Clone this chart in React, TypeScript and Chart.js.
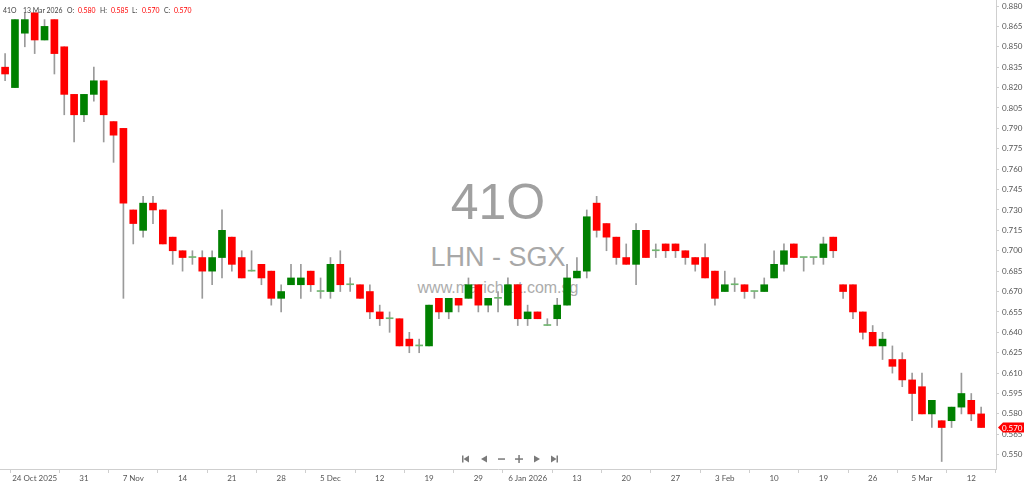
import React, { useEffect, useRef } from "react";
import { Chart, registerables } from "chart.js";

Chart.register(...registerables);

// ---- Data (OHLC, daily, 21 Oct 2025 .. 13 Mar 2026) ----
const opens = [
  0.835, 0.82, 0.86, 0.875, 0.855, 0.87, 0.85, 0.815, 0.8, 0.815,
  0.825, 0.795, 0.79, 0.73, 0.715, 0.735, 0.73, 0.71, 0.7, 0.695,
  0.695, 0.685, 0.695, 0.71, 0.695, 0.685, 0.69, 0.685, 0.665, 0.675,
  0.675, 0.685, 0.67, 0.67, 0.69, 0.675, 0.675, 0.67, 0.655, 0.65,
  0.65, 0.635, 0.63, 0.63, 0.665, 0.655, 0.665, 0.665, 0.675, 0.66,
  0.665, 0.66, 0.675, 0.65, 0.655, 0.645, 0.65, 0.66, 0.68, 0.685,
  0.735, 0.72, 0.71, 0.695, 0.69, 0.715, 0.7, 0.705, 0.705, 0.7,
  0.695, 0.695, 0.685, 0.67, 0.675, 0.675, 0.67, 0.67, 0.68, 0.69,
  0.705, 0.695, 0.695, 0.695, 0.71, 0.675, 0.675, 0.655, 0.64, 0.63,
  0.62, 0.62, 0.605, 0.6, 0.58, 0.575, 0.575, 0.585, 0.59, 0.58,
];
const highs = [
  0.845, 0.87, 0.875, 0.875, 0.87, 0.87, 0.85, 0.815, 0.815, 0.835,
  0.825, 0.795, 0.79, 0.73, 0.74, 0.74, 0.73, 0.71, 0.7, 0.7,
  0.7, 0.7, 0.73, 0.71, 0.7, 0.7, 0.69, 0.685, 0.675, 0.69,
  0.69, 0.685, 0.68, 0.695, 0.7, 0.68, 0.675, 0.675, 0.66, 0.655,
  0.65, 0.64, 0.635, 0.66, 0.665, 0.665, 0.665, 0.68, 0.675, 0.665,
  0.67, 0.68, 0.675, 0.66, 0.655, 0.65, 0.665, 0.69, 0.695, 0.73,
  0.74, 0.72, 0.71, 0.705, 0.72, 0.715, 0.705, 0.705, 0.705, 0.7,
  0.695, 0.705, 0.685, 0.685, 0.68, 0.675, 0.67, 0.68, 0.7, 0.705,
  0.705, 0.695, 0.695, 0.71, 0.71, 0.675, 0.675, 0.655, 0.645, 0.64,
  0.63, 0.625, 0.61, 0.61, 0.59, 0.575, 0.585, 0.61, 0.595, 0.585,
];
const lows = [
  0.825, 0.82, 0.85, 0.845, 0.855, 0.83, 0.8, 0.78, 0.795, 0.81,
  0.78, 0.765, 0.665, 0.705, 0.71, 0.72, 0.705, 0.69, 0.685, 0.69,
  0.665, 0.675, 0.68, 0.685, 0.68, 0.685, 0.675, 0.66, 0.655, 0.675,
  0.665, 0.67, 0.665, 0.665, 0.67, 0.67, 0.665, 0.65, 0.645, 0.64,
  0.63, 0.625, 0.625, 0.63, 0.65, 0.65, 0.655, 0.665, 0.655, 0.655,
  0.655, 0.66, 0.645, 0.645, 0.65, 0.645, 0.645, 0.66, 0.68, 0.68,
  0.71, 0.7, 0.69, 0.69, 0.675, 0.695, 0.695, 0.695, 0.695, 0.69,
  0.685, 0.68, 0.66, 0.67, 0.67, 0.665, 0.665, 0.67, 0.68, 0.685,
  0.695, 0.685, 0.69, 0.69, 0.695, 0.665, 0.65, 0.635, 0.63, 0.62,
  0.61, 0.6, 0.575, 0.58, 0.57, 0.545, 0.57, 0.58, 0.575, 0.57,
];
const closes = [
  0.83, 0.87, 0.87, 0.855, 0.865, 0.845, 0.815, 0.8, 0.815, 0.825,
  0.8, 0.785, 0.735, 0.72, 0.735, 0.73, 0.705, 0.7, 0.695, 0.695,
  0.685, 0.695, 0.715, 0.69, 0.68, 0.685, 0.68, 0.665, 0.67, 0.68,
  0.68, 0.675, 0.67, 0.69, 0.675, 0.675, 0.665, 0.655, 0.65, 0.65,
  0.63, 0.63, 0.63, 0.66, 0.655, 0.665, 0.66, 0.675, 0.66, 0.665,
  0.665, 0.675, 0.65, 0.655, 0.65, 0.645, 0.66, 0.68, 0.685, 0.725,
  0.715, 0.71, 0.695, 0.69, 0.715, 0.695, 0.7, 0.7, 0.7, 0.695,
  0.69, 0.68, 0.665, 0.675, 0.675, 0.67, 0.67, 0.675, 0.69, 0.7,
  0.695, 0.695, 0.695, 0.705, 0.7, 0.67, 0.655, 0.64, 0.63, 0.635,
  0.615, 0.605, 0.595, 0.58, 0.59, 0.57, 0.585, 0.595, 0.58, 0.57,
];

// x-axis tick positions (trading-day index) and labels
const xTickIndices = [3, 8, 13, 18, 23, 28, 33, 38, 43, 48, 53, 58, 63, 68, 73, 78, 83, 88, 93, 98];
const xTickLabels = [
  "24 Oct 2025", "31", "7 Nov", "14", "21", "28", "5 Dec", "12", "19", "29",
  "6 Jan 2026", "13", "20", "27", "3 Feb", "10", "19", "26", "5 Mar", "12",
];
const yTickValues = [
  0.55, 0.565, 0.58, 0.595, 0.61, 0.625, 0.64, 0.655, 0.67, 0.685, 0.7, 0.715,
  0.73, 0.745, 0.76, 0.775, 0.79, 0.805, 0.82, 0.835, 0.85, 0.865, 0.88,
];

const symbol = "41O";
const lastDate = "13 Mar 2026";
const titleName = "LHN - SGX";
const siteName = "www.marichart.com.sg";

const UP = "#008000";
const DOWN = "#ff0000";
const DOJI = "#6fb56f";
const WICK = "#9a9a9a";
const AXIS = "#cfcfcf";
const FONT = "Lato, 'Open Sans', sans-serif";

const lastTagPlugin = {
  id: "lastTag",
  afterDraw(chart: any) {
    const ys = chart.scales.y;
    const n = closes.length - 1;
    const y = ys.getPixelForValue(closes[n]);
    const x0 = chart.chartArea.right + 2;
    const ctx = chart.ctx;
    ctx.save();
    ctx.fillStyle = DOWN;
    ctx.beginPath();
    ctx.moveTo(x0, y);
    ctx.lineTo(x0 + 5, y - 5);
    ctx.lineTo(chart.width, y - 5);
    ctx.lineTo(chart.width, y + 5);
    ctx.lineTo(x0 + 5, y + 5);
    ctx.closePath();
    ctx.fill();
    ctx.fillStyle = "#ffffff";
    ctx.font = "8px " + FONT;
    ctx.textBaseline = "middle";
    ctx.textAlign = "left";
    ctx.fillText(closes[n].toFixed(3), x0 + 4, y + 0.5);
    ctx.restore();
  },
};

function NavIcons() {
  const c = "#7a7a7a";
  return (
    <svg
      width={110}
      height={14}
      style={{ position: "absolute", left: 455, top: 452, zIndex: 3 }}
    >
      <rect x={7} y={3.5} width={1.5} height={7} fill={c} />
      <polygon points="8.5,7 14,3.5 14,10.5" fill={c} />
      <polygon points="26,7 32,3.5 32,10.5" fill={c} />
      <rect x={43} y={6.3} width={7} height={1.5} fill={c} />
      <rect x={60} y={6.3} width={8} height={1.5} fill={c} />
      <rect x={63.3} y={3} width={1.5} height={8} fill={c} />
      <polygon points="79,3.5 85,7 79,10.5" fill={c} />
      <polygon points="96,3.5 101.5,7 96,10.5" fill={c} />
      <rect x={101.5} y={3.5} width={1.5} height={7} fill={c} />
    </svg>
  );
}

export default function App() {
  const canvasRef = useRef<HTMLCanvasElement | null>(null);

  useEffect(() => {
    document.body.style.margin = "0";
    const canvas = canvasRef.current;
    if (!canvas) return;
    const idx = closes.map((_, i) => i);
    const bodyColors = idx.map((i) =>
      closes[i] > opens[i] ? UP : closes[i] < opens[i] ? DOWN : DOJI
    );
    const labelFor: Record<number, string> = {};
    xTickIndices.forEach((v, k) => (labelFor[v] = xTickLabels[k]));

    const chart = new Chart(canvas, {
      type: "bar",
      data: {
        datasets: [
          {
            label: "wick",
            data: idx.map((i) => ({ x: i, y: [lows[i], highs[i]] })) as any,
            backgroundColor: WICK,
            barThickness: 1,
            grouped: false,
            order: 2,
          } as any,
          {
            label: "body",
            data: idx.map((i) => ({ x: i, y: [opens[i], closes[i]] })) as any,
            backgroundColor: bodyColors,
            barThickness: 7,
            minBarLength: 1,
            grouped: false,
            order: 1,
          } as any,
        ],
      },
      options: {
        responsive: false,
        animation: false,
        devicePixelRatio: 1,
        layout: { padding: 0, autoPadding: false } as any,
        plugins: {
          legend: { display: false },
          tooltip: { enabled: false },
        },
        scales: {
          x: {
            type: "linear",
            min: -0.5173,
            max: 100.508,
            offset: false,
            grid: { drawOnChartArea: false, tickLength: 4, color: AXIS },
            border: { display: true, color: AXIS },
            ticks: {
              autoSkip: false,
              maxRotation: 0,
              minRotation: 0,
              padding: 1,
              color: "#555555",
              font: { family: FONT, size: 8 },
              callback: (v: any) => labelFor[v as number] ?? "",
            },
            afterBuildTicks: (s: any) => {
              s.ticks = xTickIndices.map((v) => ({ value: v }));
            },
            afterFit: (s: any) => {
              s.height = 15;
              s.paddingLeft = 0;
              s.paddingRight = 0;
            },
          } as any,
          y: {
            type: "linear",
            position: "right",
            min: 0.539483,
            max: 0.884413,
            grid: { drawOnChartArea: false, tickLength: 3, color: AXIS },
            border: { display: true, color: AXIS },
            ticks: {
              padding: 3,
              color: "#555555",
              font: { family: FONT, size: 8 },
              callback: (v: any) => Number(v).toFixed(3),
            },
            afterBuildTicks: (s: any) => {
              s.ticks = yTickValues.map((v) => ({ value: v }));
            },
            afterFit: (s: any) => {
              s.width = 28;
              s.paddingTop = 0;
              s.paddingBottom = 0;
            },
          } as any,
        },
      },
      plugins: [lastTagPlugin],
    });
    return () => chart.destroy();
  }, []);

  const wm: React.CSSProperties = {
    position: "absolute",
    left: 0,
    width: 996,
    textAlign: "center",
    fontFamily: "'Liberation Sans', Arial, sans-serif",
    whiteSpace: "nowrap",
    zIndex: 0,
  };
  const hdr: React.CSSProperties = {
    position: "absolute",
    top: 4,
    fontFamily: FONT,
    fontSize: 8,
    lineHeight: "12px",
    whiteSpace: "nowrap",
    zIndex: 3,
    transform: "scaleX(0.86)",
    transformOrigin: "0 50%",
  };
  const red = { ...hdr, color: DOWN };
  const dark = { ...hdr, color: "#444" };

  return (
    <div
      style={{
        position: "absolute",
        left: 0,
        top: 0,
        width: 1024,
        height: 484,
        background: "#ffffff",
        overflow: "hidden",
      }}
    >
      <div style={{ ...wm, top: 174, fontSize: 50, lineHeight: "56px", color: "#a0a0a0" }}>
        {symbol}
      </div>
      <div style={{ ...wm, top: 240, fontSize: 27, lineHeight: "34px", color: "#a8a8a8" }}>
        {titleName}
      </div>
      <div style={{ ...wm, top: 278, fontSize: 16, lineHeight: "20px", color: "#acacac" }}>
        {siteName}
      </div>
      <canvas
        ref={canvasRef}
        width={1024}
        height={484}
        style={{ position: "absolute", left: 0, top: 0, zIndex: 1 }}
      />
      <span style={{ ...dark, left: 3 }}>{symbol}</span>
      <span style={{ ...dark, left: 23 }}>{lastDate}</span>
      <span style={{ ...dark, left: 67 }}>O:</span>
      <span style={{ ...red, left: 78 }}>{opens[opens.length - 1].toFixed(3)}</span>
      <span style={{ ...dark, left: 100 }}>H:</span>
      <span style={{ ...red, left: 111 }}>{highs[highs.length - 1].toFixed(3)}</span>
      <span style={{ ...dark, left: 132 }}>L:</span>
      <span style={{ ...red, left: 142 }}>{lows[lows.length - 1].toFixed(3)}</span>
      <span style={{ ...dark, left: 164 }}>C:</span>
      <span style={{ ...red, left: 174 }}>{closes[closes.length - 1].toFixed(3)}</span>
      <NavIcons />
    </div>
  );
}
